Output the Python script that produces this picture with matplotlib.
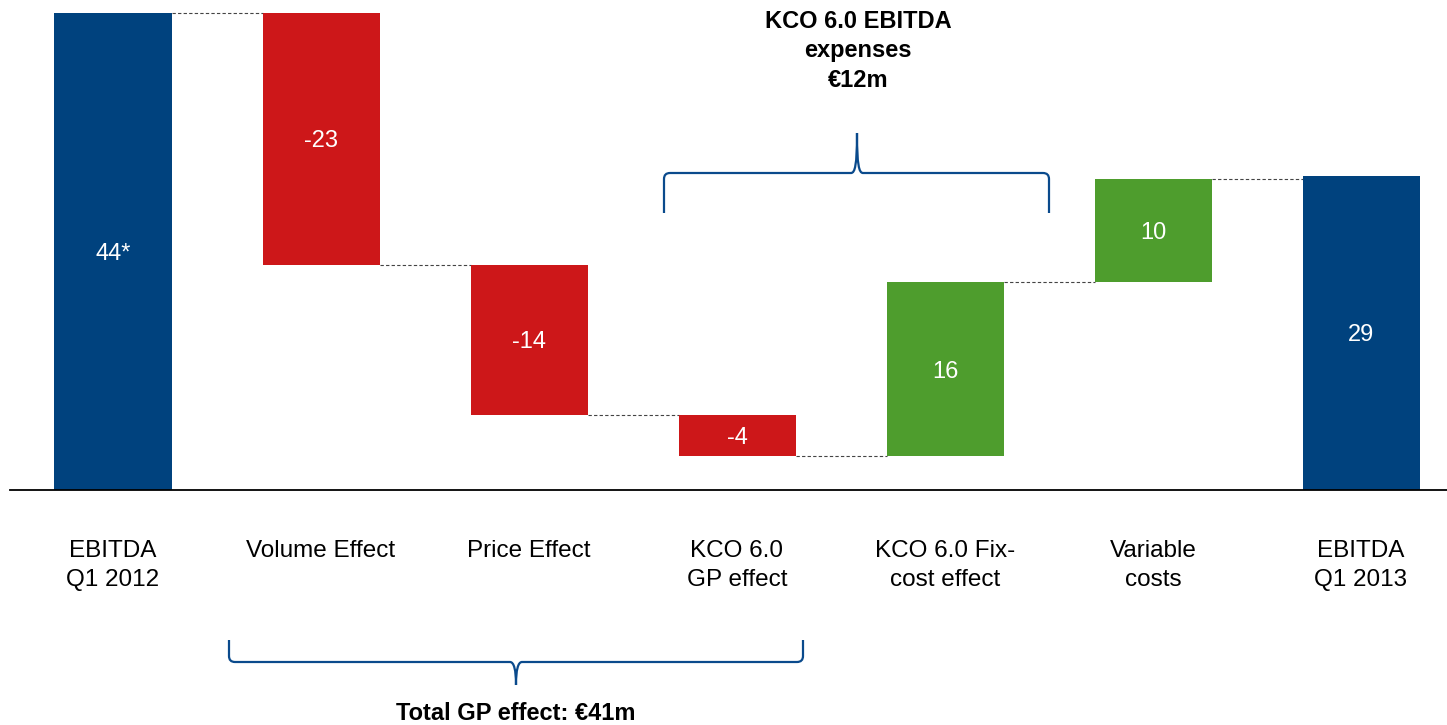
import matplotlib
matplotlib.use('Agg')
import matplotlib.pyplot as plt
from matplotlib.path import Path
from matplotlib.patches import PathPatch

plt.rcParams['font.family'] = ['Liberation Sans', 'DejaVu Sans']

# data
categories = ['EBITDA\nQ1 2012', 'Volume Effect', 'Price Effect', 'KCO 6.0\nGP effect',
              'KCO 6.0 Fix-\ncost effect', 'Variable\ncosts', 'EBITDA\nQ1 2013']
start_value = 44.0
changes = [-23.2, -13.9, -3.8, 16.1, 9.5]
end_value = 29.0
value_labels = ['44*', '-23', '-14', '-4', '16', '10', '29']

BLUE = '#00427E'
RED = '#CD1719'
GREEN = '#4E9D2D'
BRACE = '#0A4A8C'

# layout (pixels of the 1447x725 canvas)
W, H = 1447, 725
pitch, x0px, base_px, ppu = 208, 113, 490, 10.84

fig = plt.figure(figsize=(W / 100, H / 100), dpi=100)
ax = fig.add_axes([0, 0, 1, 1])
ax.axis('off')
ax.set_xlim(-x0px / pitch, (W - x0px) / pitch)
ax.set_ylim(-(H - base_px) / ppu, base_px / ppu)

# waterfall geometry
bottoms, heights, colors = [0.0], [start_value], [BLUE]
level = start_value
for c in changes:
    new = level + c
    bottoms.append(min(level, new))
    heights.append(abs(c))
    colors.append(GREEN if c > 0 else RED)
    level = new
bottoms.append(0.0)
heights.append(end_value)
colors.append(BLUE)

xs = list(range(len(categories)))
bw = 117 / pitch
ax.bar(xs, heights, bottom=bottoms, width=bw, color=colors, zorder=2)

# connectors
levels = [start_value]
lv = start_value
for c in changes:
    lv += c
    levels.append(lv)
for i, lv in enumerate(levels):
    ax.plot([i + bw / 2, i + 1 - bw / 2], [lv, lv], color='#444444', lw=0.8,
            ls=(0, (3, 2)), zorder=1)

# baseline
ax.plot([(10 - x0px) / pitch, (W - x0px) / pitch], [0, 0], color='black', lw=1.3, zorder=3)

for i in xs:
    ax.text(i, bottoms[i] + heights[i] / 2, value_labels[i], ha='center',
            va='center_baseline', color='white', fontsize=17, zorder=4)
    ax.text(i, -(540 - base_px) / ppu, categories[i], ha='center', va='top',
            fontsize=17.5, linespacing=1.39)


def px(x, y):
    return (x / W, 1 - y / H)


def brace(xl, xr, xm, y_end, y_line, y_tip, r=6):
    s = 1 if y_tip < y_line else -1  # direction of tip (up = smaller y)
    pts = [(xl, y_end), (xl, y_line + s * r), (xl, y_line), (xl + r, y_line),
           (xm - r, y_line), (xm - 2, y_line), (xm, y_line - s * 8), (xm, y_tip),
           (xm, y_line - s * 8), (xm + 2, y_line), (xm + r, y_line),
           (xr - r, y_line), (xr, y_line), (xr, y_line + s * r), (xr, y_end)]
    codes = [Path.MOVETO, Path.LINETO, Path.CURVE3, Path.CURVE3,
             Path.LINETO, Path.CURVE4, Path.CURVE4, Path.CURVE4,
             Path.CURVE4, Path.CURVE4, Path.CURVE4,
             Path.LINETO, Path.CURVE3, Path.CURVE3, Path.LINETO]
    path = Path([px(*p) for p in pts], codes)
    fig.add_artist(PathPatch(path, facecolor='none', edgecolor=BRACE, lw=1.6,
                             transform=fig.transFigure))


brace(664, 1049, 857, 213, 173, 133)
brace(229, 803, 516, 640, 662, 685)

fig.text(*px(858, 10), 'KCO 6.0 EBITDA\nexpenses\n€12m', ha='center', va='top',
         fontsize=17, fontweight='bold', linespacing=1.36)
fig.text(*px(516, 714), 'Total GP effect: €41m', ha='center', va='center',
         fontsize=17, fontweight='bold')

fig.savefig('out.png', dpi=100)
